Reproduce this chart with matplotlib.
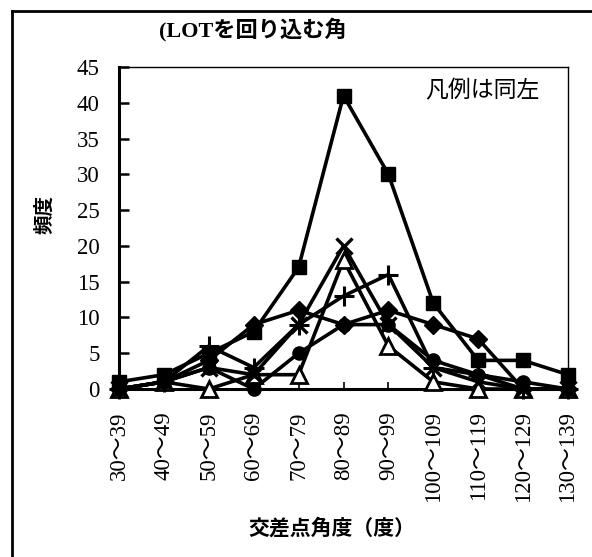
import matplotlib
matplotlib.use("Agg")
import matplotlib.pyplot as plt
from matplotlib.lines import Line2D

# Angle classes at the crossing point (degrees)
categories = ["30～39", "40～49", "50～59", "60～69", "70～79", "80～89",
              "90～99", "100～109", "110～119", "120～129", "130～139"]

# Frequency for each group
diamond_vals = [0, 1, 4, 9, 11, 9, 11, 9, 7, 0, 0]
square_vals = [1, 2, 5, 8, 17, 41, 30, 12, 4, 4, 2]
triangle_vals = [0, 1, 0, 2, 2, 18, 6, 1, 0, 0, 0]
cross_vals = [0, 1, 3, 2, 9, 20, 9, 3, 1, 0, 0]
plus_vals = [0, 1, 6, 3, 9, 13, 16, 3, 2, 0, 0]
circle_vals = [0, 1, 3, 0, 5, 9, 9, 4, 2, 1, 0]

y_ticks = list(range(0, 50, 5))

SERIF = ["Liberation Serif", "Noto Sans CJK JP"]
GOTHIC = ["Noto Sans CJK JP", "DejaVu Sans"]

fig = plt.figure(figsize=(5.92, 5.57), dpi=100)
ax = fig.add_axes([119 / 592, 1 - 389 / 557, (568 - 119) / 592, (389 - 67) / 557])

x = list(range(len(categories)))
lw = 2.6
series = [
    (diamond_vals, dict(marker="D", markersize=9.5, mfc="black", mec="black")),
    (square_vals, dict(marker="s", markersize=10.5, mfc="black", mec="black")),
    (triangle_vals, dict(marker="^", markersize=11, mfc="white", mec="black", mew=2.0)),
    (cross_vals, dict(marker="x", markersize=12, mec="black", mew=2.4)),
    (plus_vals, dict(marker="+", markersize=14, mec="black", mew=2.2)),
    (circle_vals, dict(marker="o", markersize=9.5, mfc="black", mec="black")),
]
for vals, style in series:
    ax.plot(x, vals, color="black", linewidth=lw, clip_on=False, zorder=3, **style)

ax.set_xlim(0, len(categories) - 1)
ax.set_ylim(0, 45)
ax.set_yticks(y_ticks)
ax.set_yticklabels([str(v) for v in y_ticks], fontfamily=SERIF, fontsize=16.5)
ax.set_xticks(x)
ax.set_xticklabels(categories, rotation=90, fontfamily=SERIF, fontsize=16.5)
ax.tick_params(axis="y", direction="in", length=7, width=1.8, pad=14)
ax.tick_params(axis="x", direction="in", length=5, width=1.2, pad=16)

ax.spines["left"].set_linewidth(2.2)
ax.spines["bottom"].set_linewidth(2.2)
ax.spines["top"].set_linewidth(1.0)
ax.spines["right"].set_linewidth(1.0)

ax.text((540 - 119) / 449, 0.925, "凡例は同左", transform=ax.transAxes, ha="right", va="center",
        fontfamily=GOTHIC, fontsize=16.5)

fig.text(253 / 592, 1 - 30 / 557, "(LOTを回り込む角", ha="center", va="center",
         fontfamily=SERIF, fontsize=16, fontweight="bold")
fig.text(45 / 592, 1 - 215 / 557, "頻度", rotation=90, ha="center", va="center",
         fontfamily=GOTHIC, fontsize=14, fontweight="bold")
fig.text(332 / 592, 1 - 528 / 557, "交差点角度（度）", ha="center", va="center",
         fontfamily=GOTHIC, fontsize=15, fontweight="bold")

# Outer frame (left and top edges)
fig.add_artist(Line2D([12 / 592, 12 / 592], [0, 1 - 11 / 557], transform=fig.transFigure,
                      color="black", linewidth=2.0))
fig.add_artist(Line2D([12 / 592, 1], [1 - 11 / 557, 1 - 11 / 557], transform=fig.transFigure,
                      color="black", linewidth=2.0))

fig.savefig("out.png", dpi=100)
